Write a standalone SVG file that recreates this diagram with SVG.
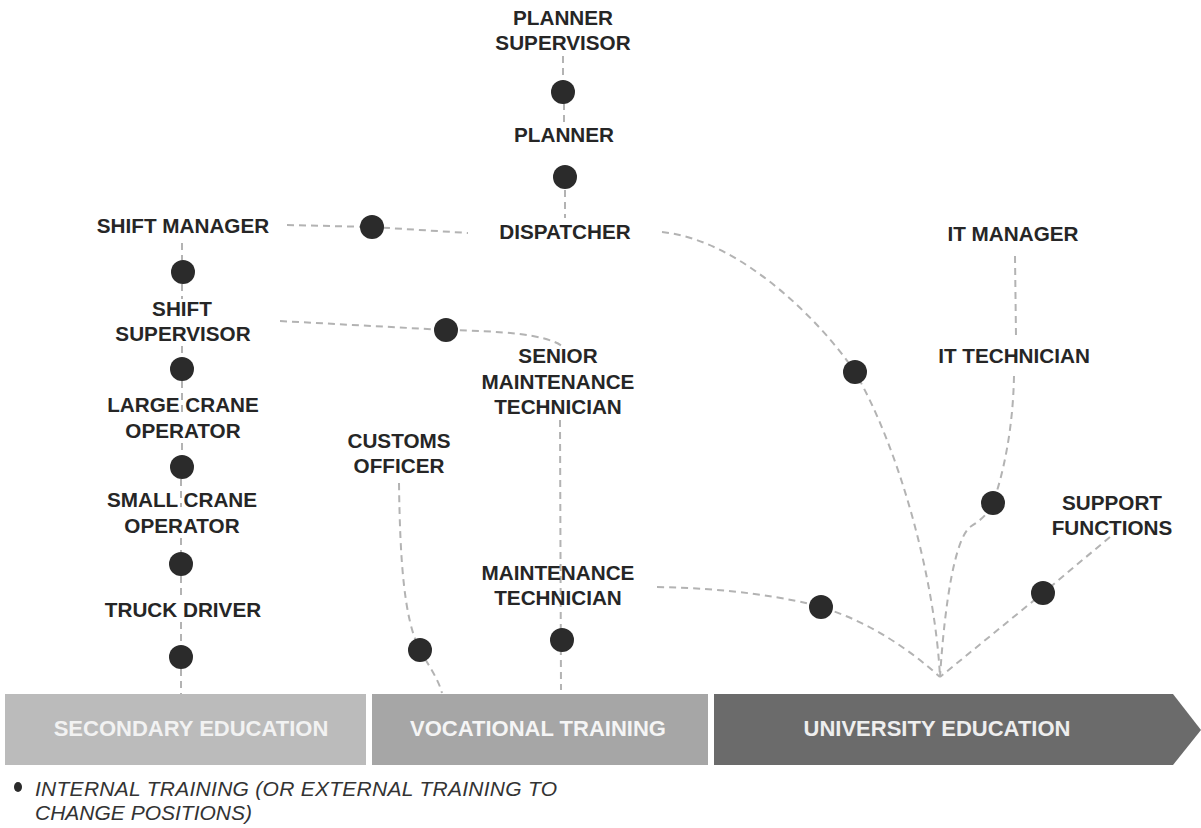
<svg xmlns="http://www.w3.org/2000/svg" width="1201" height="828" viewBox="0 0 1201 828">
<style>
.lbl{font-family:"Liberation Sans",Arial,sans-serif;font-weight:bold;font-size:20.7px;fill:#262626;text-anchor:middle}
.bar{font-family:"Liberation Sans",Arial,sans-serif;font-weight:bold;font-size:22px;text-anchor:middle}
.leg{font-family:"Liberation Sans",Arial,sans-serif;font-style:italic;font-size:21px;fill:#333}
.dash{fill:none;stroke:#b3b3b3;stroke-width:2;stroke-dasharray:7 5}
.dot{fill:#2b2b2b}
</style>
<rect width="1201" height="828" fill="#ffffff"/>
<g id="connectors">
<path class="dash" d="M563,56 L563,82 M564,103 L564,124 M565,190 L565,218"/>
<path class="dash" d="M287,225 L372,227 L468,233"/>
<path class="dash" d="M182,243 L182,260 M182,284 L182,299 M182,346 L182,357 M182,381 L182,412 M182,443 L182,455 M181,479 L181,507 M181,538 L181,552 M181,576 L181,600 M181,622 L181,646 M181,669 L181,694"/>
<path class="dash" d="M280,321 L446,330 C500,331 545,334 562,346"/>
<path class="dash" d="M560,420 L561,690"/>
<path class="dash" d="M399,483 C400,560 404,620 420,650 C428,665 438,678 442,693"/>
<path class="dash" d="M662,232 C740,240 820,320 855,372 C900,450 935,580 940,677"/>
<path class="dash" d="M657,587 C730,588 790,598 821,607 C870,622 910,650 940,677"/>
<path class="dash" d="M1015,256 L1016,336"/>
<path class="dash" d="M1014,376 C1013,430 1003,475 993,503 C988,515 978,522 970,527 C955,540 945,600 940,677"/>
<path class="dash" d="M1110,537 L1043,593 L940,677"/>
</g>
<g id="dots">
<circle class="dot" cx="563" cy="92" r="12"/>
<circle class="dot" cx="565" cy="177" r="12"/>
<circle class="dot" cx="372" cy="227" r="12"/>
<circle class="dot" cx="183" cy="272" r="12"/>
<circle class="dot" cx="446" cy="330" r="12"/>
<circle class="dot" cx="182" cy="369" r="12"/>
<circle class="dot" cx="182" cy="467" r="12"/>
<circle class="dot" cx="181" cy="564" r="12"/>
<circle class="dot" cx="181" cy="657" r="12"/>
<circle class="dot" cx="420" cy="650" r="12"/>
<circle class="dot" cx="562" cy="640" r="12"/>
<circle class="dot" cx="855" cy="372" r="12"/>
<circle class="dot" cx="821" cy="607" r="12"/>
<circle class="dot" cx="993" cy="503" r="12"/>
<circle class="dot" cx="1043" cy="593" r="12"/>
</g>
<g id="planner-supervisor"><text class="lbl" x="563" y="25">PLANNER</text><text class="lbl" x="563" y="50">SUPERVISOR</text></g>
<g id="planner"><text class="lbl" x="564" y="142">PLANNER</text></g>
<g id="dispatcher"><text class="lbl" x="565" y="239">DISPATCHER</text></g>
<g id="shift-manager"><text class="lbl" x="183" y="233">SHIFT MANAGER</text></g>
<g id="shift-supervisor"><text class="lbl" x="182" y="316">SHIFT</text><text class="lbl" x="183" y="341">SUPERVISOR</text></g>
<g id="large-crane-operator"><text class="lbl" x="183" y="412">LARGE CRANE</text><text class="lbl" x="183" y="438">OPERATOR</text></g>
<g id="small-crane-operator"><text class="lbl" x="182" y="507">SMALL CRANE</text><text class="lbl" x="182" y="533">OPERATOR</text></g>
<g id="truck-driver"><text class="lbl" x="183" y="617">TRUCK DRIVER</text></g>
<g id="customs-officer"><text class="lbl" x="399" y="448">CUSTOMS</text><text class="lbl" x="399" y="473">OFFICER</text></g>
<g id="senior-maintenance-technician"><text class="lbl" x="558" y="363">SENIOR</text><text class="lbl" x="558" y="389">MAINTENANCE</text><text class="lbl" x="558" y="414">TECHNICIAN</text></g>
<g id="maintenance-technician"><text class="lbl" x="558" y="580">MAINTENANCE</text><text class="lbl" x="558" y="605">TECHNICIAN</text></g>
<g id="it-manager"><text class="lbl" x="1013" y="241">IT MANAGER</text></g>
<g id="it-technician"><text class="lbl" x="1014" y="363">IT TECHNICIAN</text></g>
<g id="support-functions"><text class="lbl" x="1112" y="510">SUPPORT</text><text class="lbl" x="1112" y="535">FUNCTIONS</text></g>
<g id="secondary-education">
<rect x="5" y="694" width="361" height="71" fill="#bbbbbb"/>
<text class="bar" x="191" y="736" fill="#f2f2f2">SECONDARY EDUCATION</text>
</g>
<g id="vocational-training">
<rect x="372" y="694" width="336" height="71" fill="#a6a6a6"/>
<text class="bar" x="538" y="736" fill="#f5f5f5">VOCATIONAL TRAINING</text>
</g>
<g id="university-education">
<polygon points="714,694 1173,694 1201,730 1173,765 714,765" fill="#6b6b6b"/>
<text class="bar" x="937" y="736" fill="#eeeeee">UNIVERSITY EDUCATION</text>
</g>
<g id="legend">
<ellipse cx="18" cy="787" rx="4" ry="5" fill="#2b2b2b"/>
<text class="leg" x="35" y="796" textLength="522">INTERNAL TRAINING (OR EXTERNAL TRAINING TO</text>
<text class="leg" x="35" y="820">CHANGE POSITIONS)</text>
</g>
</svg>
